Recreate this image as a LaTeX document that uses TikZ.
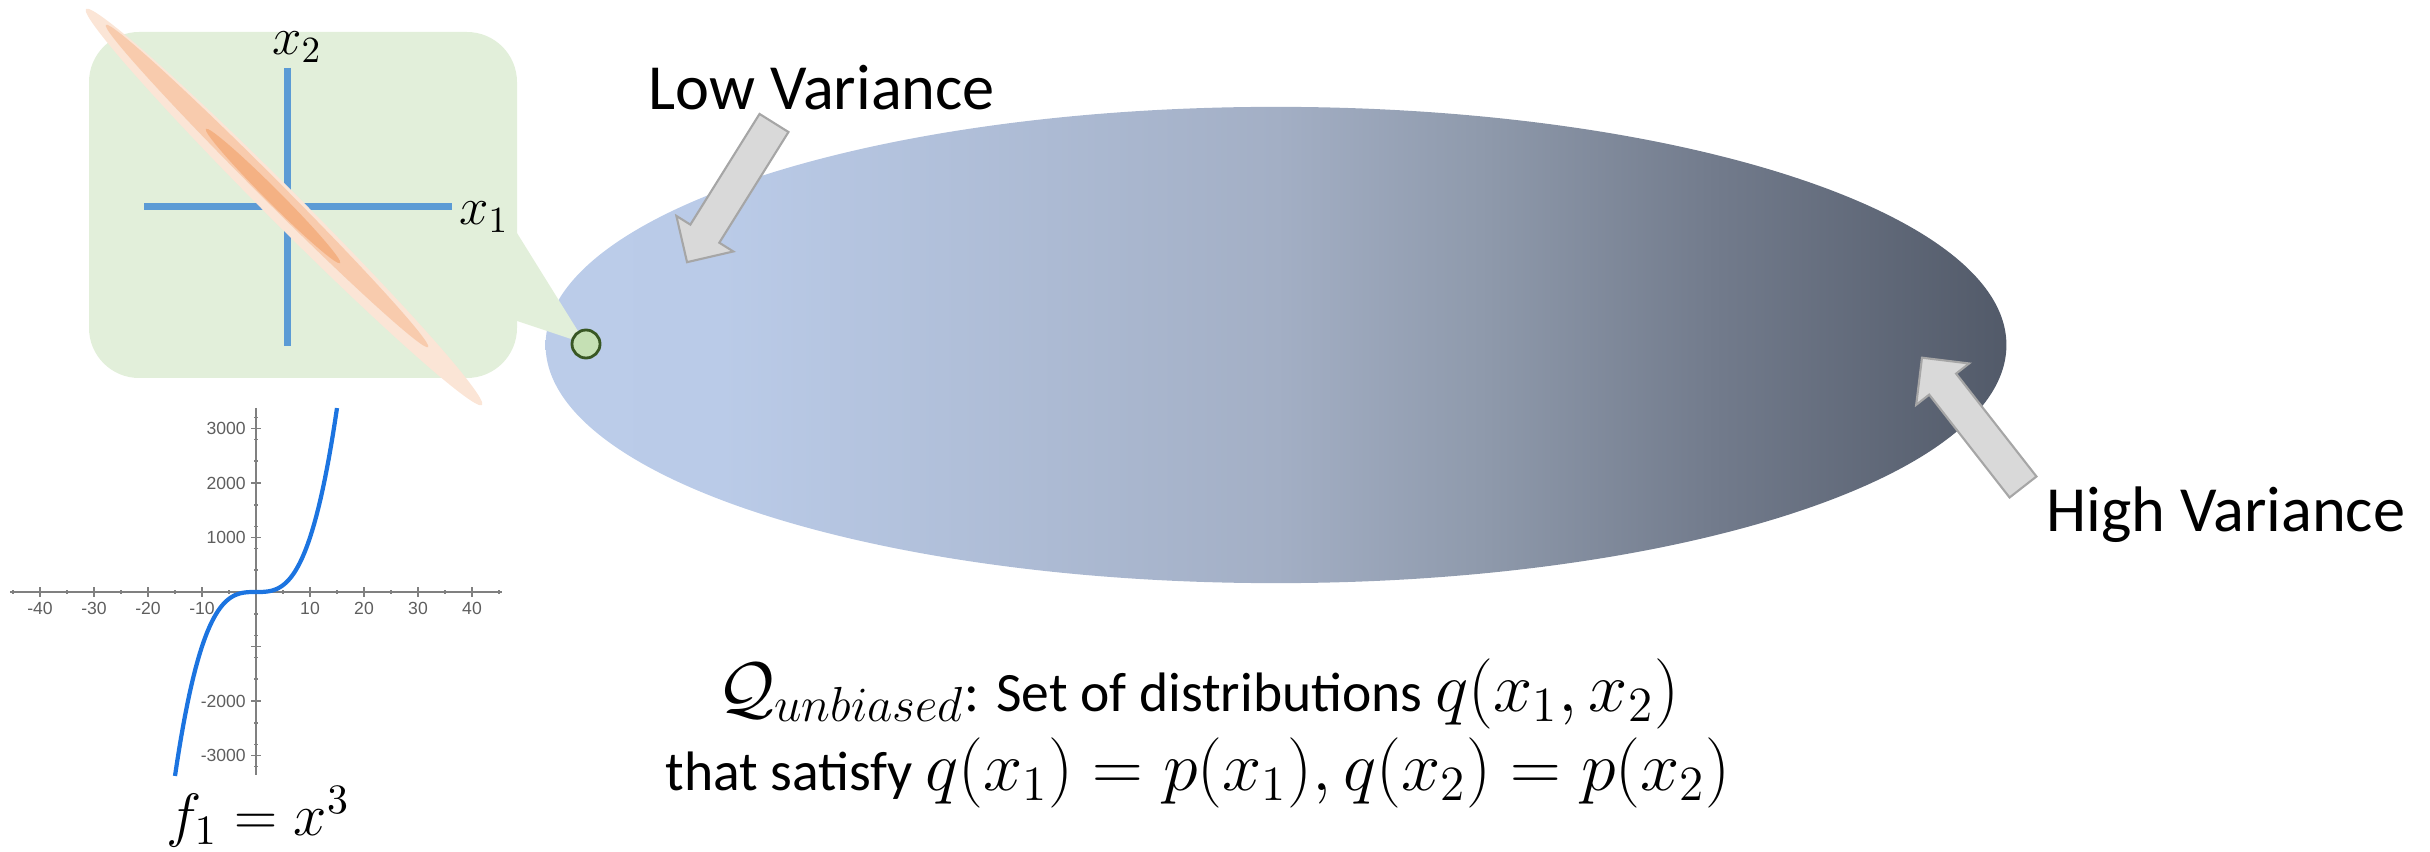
\RequirePackage{fix-cm}
\documentclass[tikz,border=0pt]{standalone}
\usepackage{fontspec}
\setmainfont{Carlito}
\newfontfamily\tickfont{Liberation Sans}
\usepackage{tikz}
\usetikzlibrary{calc,shapes.arrows,shapes.geometric,positioning}
\definecolor{calloutgreen}{HTML}{E2EFDA}
\definecolor{pointfill}{HTML}{C5E0B4}
\definecolor{pointedge}{HTML}{385723}
\definecolor{axisblue}{HTML}{5B9BD5}
\definecolor{peachA}{HTML}{FBE5D6}
\definecolor{peachB}{HTML}{F8CBAD}
\definecolor{peachC}{HTML}{F4B183}
\definecolor{arrowfill}{HTML}{D9D9D9}
\definecolor{arrowedge}{HTML}{A6A6A6}
\definecolor{curveblue}{HTML}{1C74E0}
\definecolor{tickgray}{HTML}{5E5E5E}
\definecolor{varA}{HTML}{BBCCE9}
\definecolor{varB}{HTML}{BACBE8}
\definecolor{varC}{HTML}{A3AFC5}
\definecolor{varD}{HTML}{8F9AAC}
\definecolor{varE}{HTML}{727B8C}
\definecolor{varF}{HTML}{525A69}
\pgfdeclarehorizontalshading{varshade}{100bp}{color(0bp)=(varA); color(25bp)=(varA); color(31bp)=(varB); color(50bp)=(varC); color(57bp)=(varD); color(65bp)=(varE); color(75bp)=(varF); color(100bp)=(varF)}
\newcommand{\eqpart}[1]{{\fontsize{20}{23}\selectfont$#1$}}
\tikzset{
set_region/.style={ellipse, inner sep=0, minimum width=14.6cm, minimum height=4.76cm, shade, shading=varshade},
block_arrow/.style={single arrow, draw=arrowedge, fill=arrowfill, line width=0.6pt, inner xsep=0pt, inner ysep=0.16cm, outer sep=0pt, minimum height=1.64cm, single arrow head extend=0.165cm, single arrow head indent=0pt, anchor=tail},
sample_point/.style={circle, draw=pointedge, fill=pointfill, line width=0.8pt, minimum size=0.28cm, inner sep=0},
axis_line/.style={axisblue, line width=0.07cm},
plot_axis/.style={draw=gray, line width=0.5pt},
tick_label/.style={font=\tickfont\fontsize{5}{6}\selectfont, text=tickgray, inner sep=1pt},
variance_label/.style={font=\fontsize{18.3}{22}\selectfont},
set_label/.style={font=\fontsize{15.8}{22.5}\selectfont, align=center},
axis_name/.style={font=\fontsize{15}{17}\selectfont}
}

\begin{document}
\begin{tikzpicture}[x=0.01cm,y=-0.01cm]
    \useasboundingbox (0,0) rectangle (2430,852);
    \node[set_region] (region) at (1276,345) {};
    \coordinate (tip) at (586,344);
    \fill[calloutgreen, rounded corners=0.5cm] (89,32) rectangle (517,378);
    \fill[calloutgreen] (517,233) -- (tip) -- (517,321) -- cycle;
    \draw[axis_line] (144,207) -- (452,207);
    \draw[axis_line] (287,68) -- (287,346);
    \fill[peachA, rotate around={-45:(284,207)}] (284,207) ellipse [x radius=280, y radius=17];
    \fill[peachB, rotate around={-45:(267,186)}] (267,186) ellipse [x radius=228, y radius=11];
    \fill[peachC, rotate around={-45:(273,196)}] (273,196) ellipse [x radius=95, y radius=7];
    \node[axis_name] (x1_label) at (484,217) {$x_1$};
    \node[axis_name] (x2_label) at (297,47) {$x_2$};
    \node[sample_point] (sample) at (tip) {};

    \draw[plot_axis] (10,592) -- (502,592);
    \draw[plot_axis] (256,408) -- (256,775);
    \foreach \t in {-45,-35,...,45}
        \draw[plot_axis] ({256+5.4*\t},590) -- ({256+5.4*\t},594);
    \foreach \t in {-40,-30,-20,-10,10,20,30,40} {
        \draw[plot_axis] ({256+5.4*\t},587) -- ({256+5.4*\t},597);
        \node[tick_label] at ({256+5.4*\t},608) {\t};
    }
    \foreach \v in {-3200,-2800,...,3200}
        \draw[plot_axis] (254,{592-0.0545*\v}) -- (258,{592-0.0545*\v});
    \foreach \v in {-3000,-2000,-1000,1000,2000,3000}
        \draw[plot_axis] (251,{592-0.0545*\v}) -- (261,{592-0.0545*\v});
    \foreach \v in {-3000,-2000,1000,2000,3000}
        \node[tick_label, anchor=east] at (250,{592-0.0545*\v}) {\v};
    \draw[curveblue, line width=1.2pt] plot[domain=-15:15, samples=80] ({256+5.4*\x},{592-0.0545*\x*\x*\x});
    \node[font=\fontsize{17}{20}\selectfont] (f_label) at (258,817) {$f_1 = x^3$};

    \node[block_arrow, rotate=-122] (low_arrow) at (774,123) {};
    \node[block_arrow, rotate=128] (high_arrow) at (2023,487) {};
    \node[variance_label] (low_label) at (822,88) {Low Variance};
    \node[variance_label] (high_label) at (2226,515) {High Variance};
    \node[set_label] (qset) at (1198,733) {\eqpart{\mathcal{Q}_{unbiased}}: Set of distributions \eqpart{q(x_1,x_2)}\\that satisfy \eqpart{q(x_1)=p(x_1), q(x_2)=p(x_2)}};
\end{tikzpicture}
\end{document}
